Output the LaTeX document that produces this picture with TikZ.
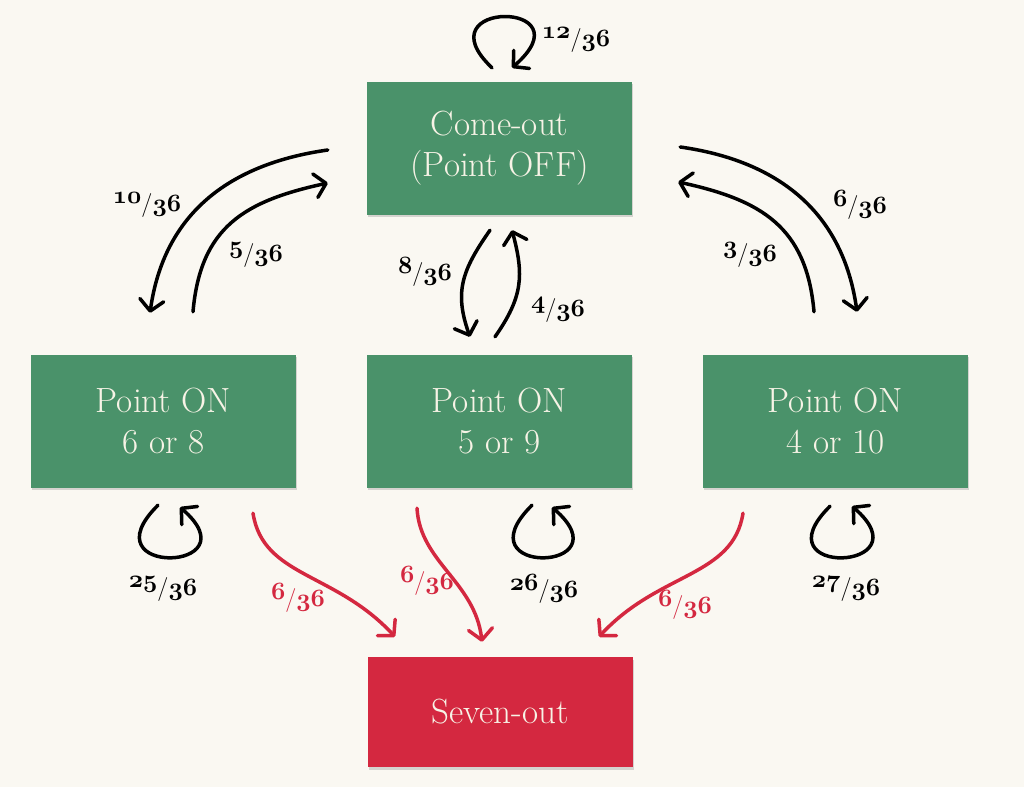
\documentclass[tikz,border=0pt]{standalone}
\usetikzlibrary{arrows.meta,shadows}
\definecolor{paper}{HTML}{FAF8F2}
\definecolor{statefill}{HTML}{4A926A}
\definecolor{losefill}{HTML}{D42840}
\definecolor{statetext}{HTML}{F7F3E6}
\newcommand\osn[1]{{\usefont{OML}{cmm}{b}{it}#1}}
\newcommand\frc[2]{\raisebox{.3em}{\osn{#1}}/\osn{#2}}
\tikzset{
  state/.style={rectangle,fill=statefill,text=statetext,minimum width=265pt,minimum height=133pt,
    align=center,font=\fontsize{35}{41}\selectfont,
    drop shadow={shadow xshift=1pt,shadow yshift=-2.5pt,opacity=.3}},
  move/.style={line width=3.5pt,line cap=round,
    -{Straight Barb[length=11pt,width=24pt,line cap=round,line join=round]}},
  lose/.style={move,draw=losefill},
  prob/.style={font=\fontsize{24}{28}\selectfont},
}
\begin{document}
\begin{tikzpicture}[x=1pt,y=1pt]
    \fill[paper] (0,0) rectangle (1024,787);
    \useasboundingbox (0,0) rectangle (1024,787);
    \node[state] (co) at (499.5,638.5) {Come-out\\(Point OFF)};
    \node[state] (p68) at (163.5,365.5) {Point ON\\6 or 8};
    \node[state] (p59) at (499.5,365.5) {Point ON\\5 or 9};
    \node[state] (p410) at (835.5,365.5) {Point ON\\4 or 10};
    \node[state,fill=losefill,minimum height=110pt] (so) at (500,75) {Seven-out};
    % come-out loop
    \draw[move] ([shift={(-7.5,14)}]co.north) .. controls +(-72,68) and +(78,68) .. ([shift={(12.5,14)}]co.north);
    \node[prob] (f12) at (576,747) {\frc{12}{36}};
    % come-out <-> 6 or 8
    \draw[move] ([shift={(-39,-1.5)}]co.west) .. controls +(-99,-14) and +(14,99) .. ([shift={(-13.5,42)}]p68.north);
    \node[prob] (f10) at (147,582) {\frc{10}{36}};
    \draw[move] ([shift={(29.5,43)}]p68.north) .. controls +(7.4,85) and +(-83,-18) .. ([shift={(-39,-34.5)}]co.west);
    \node[prob] (f5) at (256,532) {\frc{5}{36}};
    % come-out <-> 4 or 10
    \draw[move] ([shift={(48,1.5)}]co.east) .. controls +(99,-14) and +(-14,99) .. ([shift={(21.5,43)}]p410.north);
    \node[prob] (f6) at (860,582) {\frc{6}{36}};
    \draw[move] ([shift={(-21.5,43)}]p410.north) .. controls +(-7.4,85) and +(83,-18) .. ([shift={(46,-33.5)}]co.east);
    \node[prob] (f3) at (750,532) {\frc{3}{36}};
    % come-out <-> 5 or 9
    \draw[move] ([shift={(-9.5,-15)}]co.south) .. controls +(-28,-40) and +(-16,45) .. ([shift={(-29.5,18)}]p59.north);
    \node[prob] (f8) at (425,515) {\frc{8}{36}};
    \draw[move] ([shift={(-4.5,18)}]p59.north) .. controls +(28,40) and +(12,-45) .. ([shift={(12.5,-15)}]co.south);
    \node[prob] (f4) at (558,477) {\frc{4}{36}};
    % point loops
    \draw[move] ([shift={(-5.5,-17)}]p68.south) .. controls +(-73,-72) and +(75,-65) .. ([shift={(16.5,-19)}]p68.south);
    \node[prob] (f25) at (163,198) {\frc{25}{36}};
    \draw[move] ([shift={(32.5,-17)}]p59.south) .. controls +(-73,-72) and +(75,-65) .. ([shift={(52.5,-19)}]p59.south);
    \node[prob] (f26) at (544,198) {\frc{26}{36}};
    \draw[move] ([shift={(-5.5,-18)}]p410.south) .. controls +(-73,-72) and +(75,-65) .. ([shift={(16.5,-18)}]p410.south);
    \node[prob] (f27) at (846,198) {\frc{27}{36}};
    % seven-out
    \draw[lose] ([shift={(89.5,-25)}]p68.south) .. controls +(10,-64) and +(-60,65) .. ([shift={(-105,20)}]so.north);
    \node[prob,text=losefill] (r68) at (298,189) {\frc{6}{36}};
    \draw[lose] ([shift={(-82.5,-20)}]p59.south) .. controls +(3,-54) and +(-7,60) .. ([shift={(-18,15)}]so.north);
    \node[prob,text=losefill] (r59) at (427,206) {\frc{6}{36}};
    \draw[lose] ([shift={(-92.5,-25)}]p410.south) .. controls +(-10,-64) and +(60,65) .. ([shift={(99,20)}]so.north);
    \node[prob,text=losefill] (r410) at (685,182) {\frc{6}{36}};
\end{tikzpicture}
\end{document}
